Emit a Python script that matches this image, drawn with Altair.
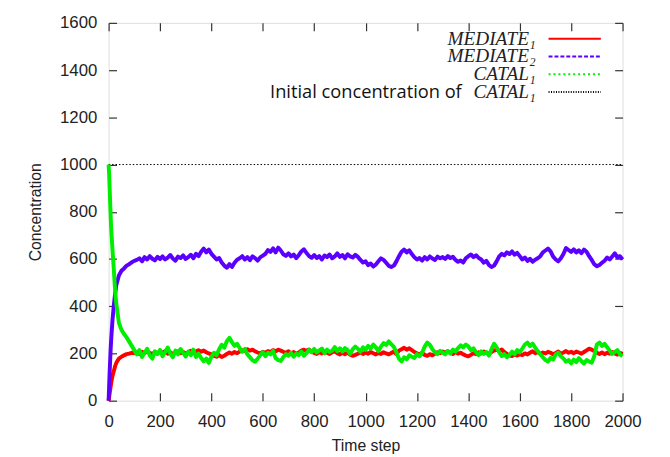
import altair as alt
import pandas as pd

# ---- data ----
TIME = [0, 2, 4, 6, 8, 10, 15, 20, 25, 30, 35] + list(range(40, 2001, 10))

MEDIATE_1 = [
    0, 15, 30, 45, 60, 75, 105, 125, 145, 160, 170, 178, 186, 192, 197, 199, 203, 201,
    204, 198, 207, 201, 210, 203, 197, 206, 200, 208,
    203, 210, 199, 205, 196, 204, 209, 201, 206, 199,
    205, 211, 202, 208, 214, 207, 212, 205, 200, 196,
    190, 186, 193, 185, 190, 198, 204, 199, 206, 201,
    208, 214, 210, 218, 212, 216, 209, 204, 200, 207,
    203, 210, 206, 214, 209, 216, 212, 207, 203, 209,
    200, 206, 198, 204, 212, 216, 211, 217, 208, 202,
    198, 206, 200, 208, 203, 198, 205, 209, 201, 196,
    203, 197, 204, 195, 190, 194, 199, 205, 198, 204,
    199, 206, 201, 196, 203, 198, 205, 200, 196, 202,
    208, 197, 212, 218, 224, 216, 222, 214, 206, 200,
    196, 203, 194, 190, 197, 192, 199, 205, 201, 208,
    203, 209, 204, 198, 206, 199, 203, 196, 191, 188,
    194, 201, 197, 205, 200, 208, 203, 199, 206, 212,
    216, 210, 217, 206, 198, 192, 189, 195, 191, 197,
    193, 200, 196, 203, 209, 201, 206, 198, 204, 200,
    207, 203, 196, 202, 208, 199, 204, 210, 203, 207,
    201, 208, 204, 199, 206, 213, 220, 216, 210, 203,
    198, 204, 197, 203, 199, 206, 200, 195, 202, 198,
]

MEDIATE_2 = [
    0, 60, 120, 170, 220, 260, 340, 400, 450, 490, 510, 530, 550, 560, 572, 578, 586, 592,
    596, 603, 590, 608, 598, 612, 601, 594, 609, 600,
    611, 598, 606, 617, 602, 593, 610, 604, 615, 600,
    608, 618, 603, 622, 612, 631, 644, 628, 640, 622,
    610, 598, 604, 585, 572, 563, 578, 566, 584, 597,
    603, 612, 598, 608, 595, 611, 604, 593, 607, 614,
    622, 638, 630, 645, 628, 648, 636, 620, 613, 624,
    611, 619, 604, 616, 632, 641, 626, 612, 605, 617,
    604, 612, 598, 615, 608, 619, 603, 611, 624, 609,
    617, 603, 620, 611, 606, 618, 609, 596, 585, 590,
    574, 581, 568, 577, 590, 603, 596, 584, 571, 566,
    572, 590, 612, 631, 640, 628, 637, 621, 607, 598,
    604, 593, 608, 598, 611, 602, 596, 610, 603, 608,
    600, 612, 604, 609, 596, 588, 594, 585, 603, 612,
    619, 608, 616, 605, 598, 584, 592, 575, 566, 572,
    590, 611, 622, 615, 628, 621, 632, 618, 626, 612,
    598, 606, 592, 601, 588, 597, 603, 612, 628, 636,
    644, 632, 610, 598, 590, 603, 621, 646, 638, 630,
    641, 628, 637, 625, 640, 631, 612, 596, 578, 569,
    575, 584, 593, 606, 598, 611, 624, 607, 612, 598,
]

CATAL_1 = [
    1000, 960, 900, 840, 780, 730, 640, 560, 470, 410, 370, 330, 300, 282, 268, 250, 232, 214,
    196, 214, 185, 203, 220, 192, 178, 209, 197, 215,
    188, 206, 225, 199, 184, 212, 196, 219, 203, 187,
    208, 193, 216, 185, 199, 181, 167, 178, 160, 186,
    203, 192, 218, 237, 224, 252, 266, 248, 232, 241,
    223, 207, 219, 196, 184, 171, 165, 178, 192, 205,
    188, 203, 196, 211, 180, 172, 168, 185, 197, 190,
    203, 186, 199, 193, 208, 190, 201, 215, 205, 219,
    204, 213, 221, 200, 216, 206, 212, 227, 210, 222,
    208, 223, 214, 198, 218, 229, 220, 207, 226, 215,
    232, 221, 238, 226, 210, 229, 244, 236, 251, 239,
    228, 205, 178, 166, 184, 175, 192, 186, 181, 197,
    188, 203, 229, 246, 237, 218, 205, 197, 211, 203,
    196, 210, 199, 216, 208, 223, 234, 226, 238, 229,
    214, 222, 205, 193, 209, 198, 206, 191, 218, 241,
    226, 205, 189, 197, 184, 193, 208, 196, 214, 205,
    221, 238, 246, 231, 242, 225, 210, 196, 184, 172,
    166, 181, 174, 196, 203, 188, 179, 165, 172, 158,
    174, 163, 180, 168, 157, 172, 166, 161, 188, 238,
    246, 232, 241, 226, 212, 198, 206, 214, 196, 188,
]

INIT_TIME = [0, 2000]
INIT_CATAL = [1000, 1000]

LEGEND_KEYS = ["m1", "m2", "c1", "init"]
LEGEND_LABELS = ["MEDIATE\u2081", "MEDIATE\u2082", "CATAL\u2081", "CATAL\u2081"]
INIT_PREFIX = "Initial concentration of"

X_TICKS = list(range(0, 2001, 200))
Y_TICKS = list(range(0, 1601, 200))

# ---- styles ----
W, H = 521, 383
RED, BLUE, GREEN, BLACK = "#ff0000", "#5b00ff", "#00ee00", "#000000"
AX_COL = "#333333"
TICK_FONT = "Liberation Sans"
LINE_W = 4

df = pd.DataFrame({"t": TIME, "m1": MEDIATE_1, "m2": MEDIATE_2, "c1": CATAL_1})
df_init = pd.DataFrame({"t": INIT_TIME, "v": INIT_CATAL})
df_leg = pd.DataFrame({"key": LEGEND_KEYS, "label": LEGEND_LABELS})

xdom = alt.Scale(domain=[0, 2000], nice=False)
ydom = alt.Scale(domain=[0, 1600], nice=False)

axis_main_x = alt.Axis(orient="bottom", values=X_TICKS, format="d", labelOverlap=False,
                       labelFlush=False, ticks=False, domain=False, grid=False,
                       labelFontSize=17, labelFont=TICK_FONT, labelColor="#222", labelPadding=13,
                       title="Time step", titleFontSize=16, titleFont=TICK_FONT,
                       titleFontWeight="normal", titleColor="#222", titlePadding=9)
axis_main_y = alt.Axis(orient="left", values=Y_TICKS, format="d", labelOverlap=False,
                       labelFlush=False, ticks=False, domain=False, grid=False,
                       labelFontSize=17, labelFont=TICK_FONT, labelColor="#222", labelPadding=12,
                       title="Concentration", titleFontSize=16, titleFont=TICK_FONT,
                       titleFontWeight="normal", titleColor="#222", titlePadding=16)


def tick_axis(orient, vals, offset):
    return alt.Axis(orient=orient, values=vals, labels=False, domain=False, grid=False,
                    ticks=True, tickSize=8, tickColor=AX_COL, tickWidth=1.2,
                    title=None, offset=offset)


base = alt.Chart(df)

red = base.mark_line(color=RED, strokeWidth=LINE_W, strokeJoin="round").encode(
    x=alt.X("t:Q", scale=xdom, axis=axis_main_x),
    y=alt.Y("m1:Q", scale=ydom, axis=axis_main_y),
)
blue = base.mark_line(color=BLUE, strokeWidth=LINE_W, strokeJoin="round").encode(
    x=alt.X("t:Q", scale=xdom, axis=tick_axis("top", X_TICKS, -H)),
    y=alt.Y("m2:Q", scale=ydom, axis=tick_axis("right", Y_TICKS, -W)),
)
green = base.mark_line(color=GREEN, strokeWidth=LINE_W, strokeJoin="round").encode(
    x=alt.X("t:Q", scale=xdom, axis=tick_axis("bottom", X_TICKS, -H)),
    y=alt.Y("c1:Q", scale=ydom, axis=tick_axis("left", Y_TICKS, -W)),
)
init = alt.Chart(df_init).mark_line(color=BLACK, strokeWidth=1, strokeDash=[1.5, 2]).encode(
    x=alt.X("t:Q", scale=xdom, axis=None),
    y=alt.Y("v:Q", scale=ydom, axis=None),
)

leg_y = alt.Y("key:N", scale=alt.Scale(type="point", domain=LEGEND_KEYS, range=[16, 70], padding=0),
              axis=None)

leg_rule = alt.Chart(df_leg).mark_rule().encode(
    x=alt.value(446), x2=alt.value(499),
    y=leg_y,
    color=alt.Color("key:N", scale=alt.Scale(domain=LEGEND_KEYS, range=[RED, BLUE, GREEN, BLACK]),
                    legend=None),
    strokeDash=alt.StrokeDash("key:N", scale=alt.Scale(domain=LEGEND_KEYS,
                              range=[[1, 0], [4, 2], [2, 3], [1, 1.5]]), legend=None),
    strokeWidth=alt.StrokeWidth("key:N", scale=alt.Scale(domain=LEGEND_KEYS, range=[2, 2, 2.5, 1]),
                                legend=None),
)
leg_text = alt.Chart(df_leg).mark_text(align="right", baseline="middle", font="Liberation Serif",
                                       fontStyle="italic", fontSize=19.5, color="#222").encode(
    x=alt.value(433), y=leg_y, text="label:N",
)
leg_prefix = alt.Chart(df_leg).transform_filter(alt.datum.key == "init").mark_text(
    align="right", baseline="middle", font="Open Sans", fontSize=18.5, color="#111").encode(
    x=alt.value(358), y=leg_y, text=alt.value(INIT_PREFIX),
)

chart = alt.layer(init, red, blue, green, leg_rule, leg_text, leg_prefix).resolve_scale(
    y="independent"
).resolve_axis(x="independent", y="independent").properties(
    width=W, height=H,
    autosize=alt.AutoSizeParams(type="none"),
    padding={"left": 102, "top": 12, "right": 40, "bottom": 52},
).configure_view(stroke=AX_COL, strokeWidth=1.2).configure(background="white")

chart.save("out.html", embed_options={"renderer": "svg", "actions": False})
